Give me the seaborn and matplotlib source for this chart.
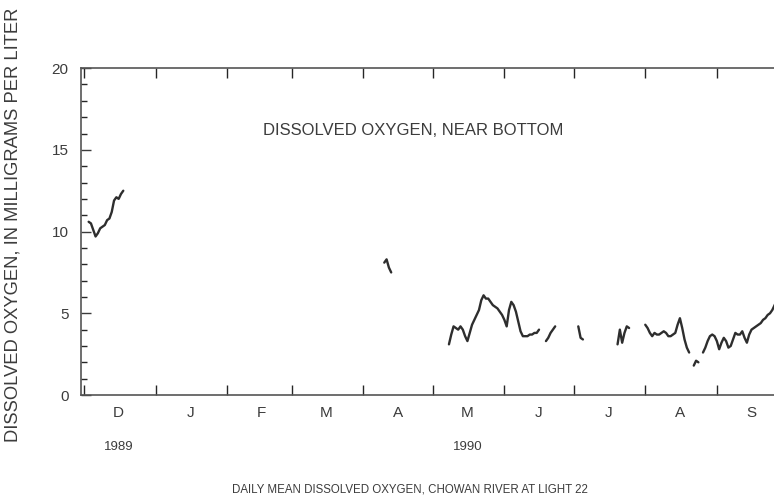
import pandas as pd
import numpy as np
import matplotlib.pyplot as plt
import matplotlib.dates as mdates
from matplotlib.ticker import MultipleLocator, FuncFormatter, NullFormatter
import seaborn as sns

# Daily mean dissolved oxygen near bottom (mg/L).
# Each run is an unbroken record of daily values; gaps are missing record.
SEGMENT_STARTS = ["1989-12-03", "1990-04-10", "1990-05-08", "1990-06-19",
                  "1990-07-03", "1990-07-20", "1990-08-01", "1990-08-22",
                  "1990-08-26"]

do_dec = [10.6, 10.5, 10.1, 9.7, 9.9, 10.2, 10.3, 10.4, 10.7, 10.8,
          11.2, 11.9, 12.1, 12.0, 12.3, 12.5]
do_apr = [8.1, 8.3, 7.8, 7.5]
do_may = [3.1, 3.7, 4.2, 4.1, 4.0, 4.2, 4.0, 3.6, 3.3, 3.8,
          4.3, 4.6, 4.9, 5.2, 5.8, 6.1, 5.9, 5.9, 5.7, 5.5,
          5.4, 5.3, 5.1, 4.9, 4.6, 4.2, 5.2, 5.7, 5.5, 5.1,
          4.5, 3.9, 3.6, 3.6, 3.6, 3.7, 3.7, 3.8, 3.8, 4.0]
do_jun = [3.3, 3.5, 3.8, 4.0, 4.2]
do_jul_a = [4.2, 3.5, 3.4]
do_jul_b = [3.1, 4.0, 3.2, 3.8, 4.2, 4.1]
do_aug = [4.3, 4.1, 3.8, 3.6, 3.8, 3.7, 3.7, 3.8, 3.9, 3.8,
          3.6, 3.6, 3.7, 3.8, 4.3, 4.7, 4.1, 3.4, 2.9, 2.6]
do_aug_b = [1.8, 2.1, 2.0]
do_sep = [2.6, 2.9, 3.3, 3.6, 3.7, 3.6, 3.3, 2.8, 3.2, 3.5,
          3.3, 2.9, 3.0, 3.4, 3.8, 3.7, 3.7, 3.9, 3.5, 3.2,
          3.7, 4.0, 4.1, 4.2, 4.3, 4.4, 4.6, 4.7, 4.9, 5.0,
          5.2, 5.5, 5.8, 6.1, 6.3]

SEGMENTS = [do_dec, do_apr, do_may, do_jun, do_jul_a, do_jul_b,
            do_aug, do_aug_b, do_sep]

MONTH_LETTERS = ["J", "F", "M", "A", "M", "J", "J", "A", "S", "O", "N", "D"]
YEAR_LABELS = [("1989-12-16", "1989"), ("1990-05-16", "1990")]

TEXT = "#3c3c3c"
INK = "#2e2e2e"

sns.set_theme(style="ticks")
plt.rcParams["font.family"] = ["Liberation Sans", "DejaVu Sans"]

frames = []
for i, (start, vals) in enumerate(zip(SEGMENT_STARTS, SEGMENTS)):
    dates = pd.date_range(start, periods=len(vals), freq="D")
    frames.append(pd.DataFrame({"date": dates, "do": vals, "seg": i}))
df = pd.concat(frames, ignore_index=True)

fig = plt.figure(figsize=(7.74, 4.96), dpi=100)
ax = fig.add_axes([0.1047, 0.2036, 0.911, 0.659])

sns.lineplot(data=df, x="date", y="do", units="seg", estimator=None,
             color=INK, linewidth=1.7, ax=ax, legend=False)

ax.set_xlim(mdates.date2num(pd.Timestamp("1989-11-29 17:00")),
            mdates.date2num(pd.Timestamp("1990-10-01")))
ax.set_ylim(0, 20)

# y axis: major every 5, minor every 1, ticks pointing in
ax.yaxis.set_major_locator(MultipleLocator(5))
ax.yaxis.set_minor_locator(MultipleLocator(1))
ax.tick_params(axis="y", which="major", direction="in", length=7, width=1,
               left=True, right=True, labelsize=11, colors=TEXT, pad=9)
ax.tick_params(axis="y", which="minor", direction="in", length=4, width=1,
               left=True, right=True)

# x axis: tick marks at month boundaries, letters centred in each month
ax.xaxis.set_major_locator(mdates.MonthLocator())
ax.xaxis.set_major_formatter(NullFormatter())
ax.xaxis.set_minor_locator(mdates.MonthLocator(bymonthday=16))
ax.xaxis.set_minor_formatter(FuncFormatter(
    lambda x, pos: MONTH_LETTERS[mdates.num2date(x).month - 1]))
ax.tick_params(axis="x", which="major", direction="in", length=7, width=1,
               bottom=True, top=True)
ax.tick_params(axis="x", which="minor", length=0, labelsize=11,
               colors=TEXT, pad=8)

for s in ax.spines.values():
    s.set_color("#555555")
    s.set_linewidth(1.2)

ax.set_xlabel("")
ax.set_ylabel("DISSOLVED OXYGEN, IN MILLIGRAMS PER LITER", fontsize=13.2,
              color=TEXT)
ax.yaxis.set_label_coords(-0.084, 0.52)

for day, year in YEAR_LABELS:
    ax.text(mdates.date2num(pd.Timestamp(day)), -0.158, year,
            transform=ax.get_xaxis_transform(), ha="center", va="center",
            fontsize=9.5, color=TEXT)

ax.text(0.471, 0.81, "DISSOLVED OXYGEN, NEAR BOTTOM", transform=ax.transAxes,
        ha="center", va="center", fontsize=12, color=TEXT)

fig.text(410 / 774, 0.014, "DAILY MEAN DISSOLVED OXYGEN, CHOWAN RIVER AT LIGHT 22",
         ha="center", va="center", fontsize=8.3, color=TEXT)

fig.savefig("out.png", dpi=100, facecolor="white")
